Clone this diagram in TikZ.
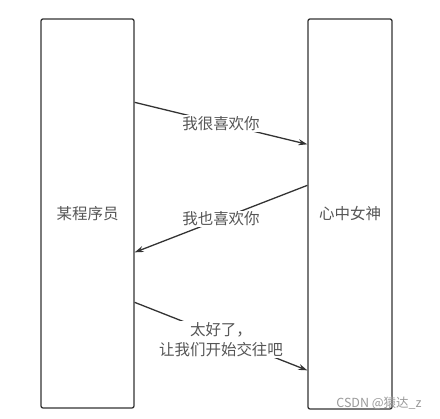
\documentclass[tikz,border=0pt]{standalone}
\usepackage{fontspec}
\setmainfont{Noto Sans CJK SC}
\usetikzlibrary{arrows.meta}
\definecolor{linec}{HTML}{333333}
\definecolor{textc}{HTML}{555555}
\definecolor{wmc}{HTML}{999999}
\begin{document}
\begin{tikzpicture}[x=1pt,y=-1pt,
  actor/.style={draw=linec,line width=1.3pt,rounded corners=2pt,inner sep=0pt,
    font=\fontsize{15.5}{18}\selectfont,text=textc},
  msg/.style={draw=linec,line width=1.3pt,-{Stealth[length=9pt,width=6pt]}},
  lbl/.style={fill=white,inner sep=1pt,font=\fontsize{15.5}{20}\selectfont,text=textc,align=center}]
\useasboundingbox (0,0) rectangle (440,419);
\node[actor,minimum width=93pt,minimum height=389pt] (L) at (87.5,213.5) {某程序员};
\node[actor,minimum width=84pt,minimum height=390pt] (R) at (350,214) {心中女神};
\draw[msg] ([yshift=-84pt]L.north east) -- node[lbl] (m1) {我很喜欢你} ([yshift=-126pt]R.north west);
\draw[msg] ([yshift=-167pt]R.north west) -- node[lbl] (m2) {我也喜欢你} ([yshift=-234pt]L.north east);
\draw[msg] ([yshift=-284pt]L.north east) -- node[lbl,yshift=-3pt] (m3) {太好了，\\让我们开始交往吧} ([yshift=-352pt]R.north west);
\node[text=wmc,font=\fontsize{12.5}{14}\selectfont,inner sep=0pt] (wm) at (379,403) {CSDN @猿达\_z};
\end{tikzpicture}
\end{document}
